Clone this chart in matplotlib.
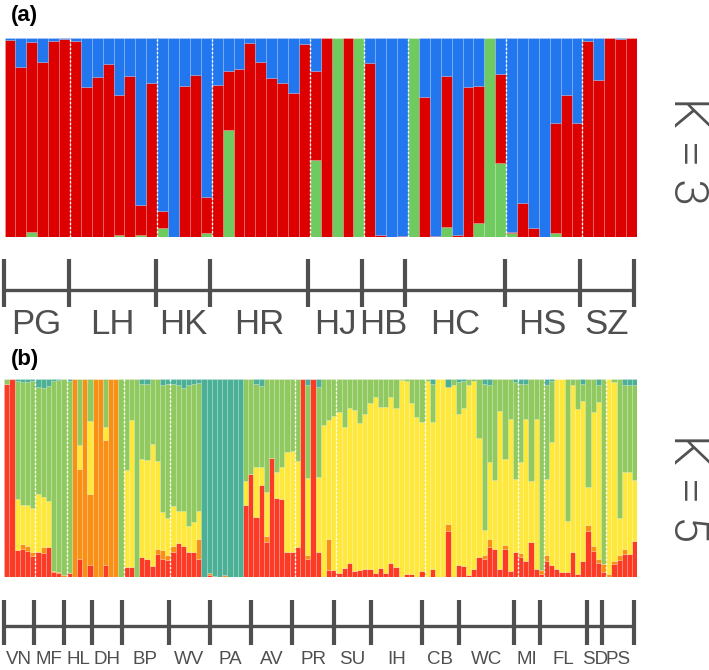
import numpy as np
import matplotlib
matplotlib.use('Agg')
import matplotlib.pyplot as plt
from matplotlib import font_manager

# ---------------- data: panel (a), K = 3 ----------------
a_labels = ['PG', 'LH', 'HK', 'HR', 'HJ', 'HB', 'HC', 'HS', 'SZ']
a_sizes = [6, 8, 5, 9, 5, 4, 9, 7, 5]
a_red = [0.99, 0.854, 0.958, 0.882, 0.988, 0.995,
         0.988, 0.753, 0.807, 0.869, 0.706, 0.812, 0.151, 0.776,
         0.089, 0.0, 0.76, 0.815, 0.182,
         0.765, 0.297, 0.845, 0.975, 0.879, 0.802, 0.773, 0.723, 0.97,
         0.449, 1.0, 0.0, 1.0, 0.0,
         0.874, 0.008, 0.0, 0.005,
         0.0, 0.703, 0.005, 0.761, 0.008, 0.753, 0.692, 0.0, 0.45,
         0.005, 0.168, 0.042, 0.0, 0.555, 0.714, 0.575,
         0.988, 0.79, 1.0, 0.997, 1.0]
a_green = [0, 0, 0.025, 0, 0, 0,
           0, 0, 0, 0, 0.008, 0, 0.008, 0,
           0.042, 0, 0, 0, 0.017,
           0, 0.538, 0, 0, 0, 0, 0, 0, 0,
           0.387, 0, 1.0, 0, 1.0,
           0, 0, 0, 0,
           1.0, 0, 0, 0.05, 0, 0, 0.067, 1.0, 0.37,
           0.02, 0, 0, 0, 0.017, 0, 0,
           0, 0, 0, 0, 0]
a_axis_ticks = [-0.08, 5.91, 13.87, 18.83, 27.83, 32.78, 36.73, 45.9, 52.77, 57.73]

# ---------------- data: panel (b), K = 5 ----------------
b_labels = ['VN', 'MF', 'HL', 'DH', 'BP', 'WV', 'PA', 'AV', 'PR', 'SU', 'IH',
            'CB', 'WC', 'MI', 'FL', 'SD', 'PS']
b_dashed_after = [6, 12, 23, 32, 56, 64, 81, 99, 104, 116]
b_red = [0.975, 1.0, 0.134, 0.139, 0.13, 0.106,
         0.128, 0.123, 0.153, 0.025, 0.02, 0.0,
         0.02, 0.0, 0.09, 0.0, 0.059,
         0.0, 0.0, 0.059, 0.0, 0.0, 0.0,
         0.052, 0.052, 0.0, 0.10, 0.089, 0.055, 0.118, 0.092, 0.084,
         0.126, 0.173, 0.156, 0.126, 0.126, 0.092,
         0.0, 0.01, 0.005, 0.0, 0.0, 0.0, 0.0, 0.0,
         0.361, 0.519, 0.304, 0.464, 0.175, 0.598, 0.40, 0.393, 0.124, 0.124,
         0.153, 1.0, 0.089, 1.0, 0.126, 0.0, 0.037, 0.037,
         0.018, 0.044, 0.069, 0.03, 0.035, 0.042, 0.039, 0.018, 0.045, 0.018,
         0.071, 0.05, 0.0, 0.013, 0.017, 0.0, 0.03,
         0.0, 0.042, 0.0, 0.0, 0.23, 0.0, 0.062, 0.055, 0.01, 0.04, 0.10,
         0.092, 0.151, 0.143, 0.042, 0.143, 0.029, 0.126,
         0.10, 0.079, 0.176, 0.042, 0.017,
         0.079, 0.06, 0.042, 0.025, 0.025, 0.126, 0.017, 0.079, 0.23, 0.131, 0.072, 0.025,
         0.0, 0.065, 0.085, 0.118, 0.118, 0.18]
b_orange = [0.0, 0.0, 0.0, 0.029, 0.027, 0.02,
            0.0, 0.03, 0.0, 0.005, 0.005, 0.01,
            0.0, 1.0, 0.457, 1.0, 0.361,
            1.0, 1.0, 0.634, 1.0, 1.0, 0.0,
            0.0, 0.0, 0.0, 0.0, 0.0, 0.0, 0.025, 0.042, 0.025,
            0.03, 0.0, 0.0, 0.0, 0.0, 0.10,
            0.0, 0.01, 0.0, 0.0, 0.008, 0.0, 0.0, 0.0,
            0.0, 0.0, 0.0, 0.0, 0.034, 0.0, 0.0, 0.0, 0.0, 0.0,
            0.0, 0.0, 0.022, 0.0, 0.0, 0.0, 0.153, 0.0,
            0.0, 0.0, 0.0, 0.0, 0.0, 0.0, 0.0, 0.0, 0.0, 0.0,
            0.0, 0.0, 0.0, 0.0, 0.0, 0.0, 0.0,
            0.0, 0.0, 0.0, 0.0, 0.039, 0.0, 0.0, 0.0, 0.0, 0.0, 0.0,
            0.02, 0.042, 0.0, 0.0, 0.017, 0.0, 0.0,
            0.02, 0.0, 0.0, 0.0, 0.017,
            0.034, 0.0, 0.0, 0.0, 0.0, 0.0, 0.0, 0.0, 0.034, 0.025, 0.02, 0.042,
            0.017, 0.018, 0.025, 0.025, 0.0, 0.0]
b_yellow = [0.0, 0.0, 0.26, 0.193, 0.205, 0.222,
            0.29, 0.25, 0.23, 0.0, 0.0, 0.0,
            0.0, 0.0, 0.121, 0.0, 0.366,
            0.0, 0.0, 0.064, 0.0, 0.0, 0.0,
            0.487, 0.74, 0.0, 0.496, 0.50, 0.615, 0.44, 0.193, 0.19,
            0.20, 0.158, 0.175, 0.13, 0.15, 0.143,
            0.0, 0.0, 0.0, 0.0, 0.0, 0.0, 0.0, 0.0,
            0.124, 0.0, 0.249, 0.092, 0.218, 0.0, 0.13, 0.16, 0.506, 0.511,
            0.432, 0.0, 0.388, 0.0, 0.38, 0.765, 0.60, 0.773,
            0.816, 0.714, 0.781, 0.812, 0.74, 0.78, 0.84, 0.888, 0.814, 0.841,
            0.835, 0.80, 0.993, 0.977, 0.859, 0.805, 0.753,
            0.99, 0.74, 1.0, 1.0, 0.689, 0.97, 0.76, 0.795, 0.956, 0.95, 0.60,
            0.123, 0.387, 0.345, 0.793, 0.434, 0.77, 0.366,
            0.459, 0.72, 0.306, 0.756, 0.0,
            0.38, 0.62, 0.958, 0.975, 0.257, 0.84, 0.832, 0.807, 0.19, 0.676, 0.79, 0.0,
            0.983, 0.90, 0.19, 0.387, 0.412, 0.307]
b_teal = [0.0, 0.0, 0.013, 0.017, 0.018, 0.01,
          0.04, 0.045, 0.035, 0.01, 0.005, 0.0,
          0.01, 0.0, 0.0, 0.0, 0.0,
          0.0, 0.0, 0.0, 0.0, 0.0, 0.0,
          0.0, 0.0, 0.0, 0.025, 0.025, 0.0, 0.0, 0.034, 0.025,
          0.025, 0.034, 0.047, 0.034, 0.025, 0.02,
          1.0, 0.98, 0.995, 1.0, 0.992, 1.0, 1.0, 1.0,
          0.0, 0.0, 0.027, 0.037, 0.0, 0.0, 0.0, 0.0, 0.0, 0.0,
          0.0, 0.0, 0.032, 0.0, 0.04, 0.0, 0.0, 0.0,
          0.0, 0.0, 0.0, 0.0, 0.0, 0.0, 0.0, 0.0, 0.0, 0.0,
          0.0, 0.0, 0.0, 0.0, 0.0, 0.0, 0.0,
          0.0, 0.025, 0.0, 0.0, 0.042, 0.0, 0.018, 0.01, 0.0, 0.0, 0.0,
          0.025, 0.034, 0.0, 0.0, 0.0, 0.0, 0.017,
          0.025, 0.025, 0.0, 0.0, 0.0,
          0.034, 0.01, 0.0, 0.0, 0.0, 0.0, 0.0, 0.025, 0.0, 0.0, 0.034, 0.0,
          0.0, 0.0, 0.0, 0.034, 0.034, 0.034]
b_axis_ticks = [-0.13, 5.68, 11.6, 16.82, 22.64, 31.77, 39.6, 47.61, 55.51, 63.5,
                70.63, 80.46, 87.59, 98.28, 103.26, 112.37, 115.24, 121.33]

# ---------------- styling ----------------
A_COLS = {'green': '#6fcb5f', 'red': '#dd0000', 'blue': '#2277ee'}
B_COLS = {'red': '#fb3b26', 'orange': '#fa8f15', 'yellow': '#fee83b',
          'green': '#90c95f', 'teal': '#4bb096'}
AXIS_COL = '#4f4f4f'

fonts = font_manager.fontManager.ttflist
names = {f.name for f in fonts}
NARROW = 'Liberation Sans Narrow' if 'Liberation Sans Narrow' in names else 'Liberation Sans'
NARROW_STRETCH = 'normal' if NARROW == 'Liberation Sans Narrow' else 'condensed'

K_FAMILY, K_WEIGHT = 'Liberation Sans', 'normal'
for fam in ['Roboto', 'Lato', 'Open Sans', 'Inter']:
    ws = [f.weight for f in fonts if f.name == fam and f.style == 'normal']
    ws = [w if isinstance(w, int) else {'light': 300, 'normal': 400, 'regular': 400}.get(w, 400)
          for w in ws]
    if any(w == 300 for w in ws):
        K_FAMILY, K_WEIGHT = fam, 300
        break

W, H = 709, 670
fig = plt.figure(figsize=(W / 100, H / 100), dpi=100)


def px_axes(x0, y0, x1, y1):
    return fig.add_axes([x0 / W, 1 - y1 / H, (x1 - x0) / W, (y1 - y0) / H])


def stacked(ax, layers, dashed):
    n = len(layers[0][0])
    x = np.arange(n)
    bottom = np.zeros(n)
    for vals, col in layers:
        v = np.asarray(vals, dtype=float)
        ax.bar(x, v, bottom=bottom, width=1.0, align='edge', color=col,
               edgecolor=(1, 1, 1, 0.2), linewidth=0.5)
        bottom = bottom + v
    ax.vlines(dashed, 0, 1, colors='white', linestyles=(0, (1.6, 1.4)), linewidth=1.0)
    ax.set_xlim(0, n)
    ax.set_ylim(0, 1)
    ax.axis('off')
    return n


def group_axis(ax, n, ticks, labels, line_y, tick_top, tick_bot, lab_y, fs, ylim):
    ax.set_xlim(0, n)
    ax.set_ylim(*ylim)
    ax.hlines(line_y, ticks[0], ticks[-1], colors=AXIS_COL, linewidth=2.4, clip_on=False)
    ax.vlines(ticks, tick_top, tick_bot, colors=AXIS_COL, linewidth=3.0, clip_on=False)
    for i, lab in enumerate(labels):
        ax.text((ticks[i] + ticks[i + 1]) / 2, lab_y, lab, ha='center', va='center',
                fontsize=fs, color=AXIS_COL, family=NARROW, stretch=NARROW_STRETCH)
    ax.axis('off')


# ---- panel (a)
a_blue = [max(0.0, 1 - r - g) for r, g in zip(a_red, a_green)]
ax_a = px_axes(4.5, 38.3, 637, 236.7)
na = stacked(ax_a, [(a_green, A_COLS['green']), (a_red, A_COLS['red']),
                    (a_blue, A_COLS['blue'])],
             np.cumsum(a_sizes)[:-1])

ax_ag = px_axes(4.5, 250, 637, 345)
group_axis(ax_ag, na, a_axis_ticks, a_labels, 290, 259, 307, 325, 25, (345, 250))

# ---- panel (b)
b_green = [max(0.0, 1 - r - o - y - t) for r, o, y, t in zip(b_red, b_orange, b_yellow, b_teal)]
ax_b = px_axes(4.3, 378.7, 637.3, 577)
nb = stacked(ax_b, [(b_red, B_COLS['red']), (b_orange, B_COLS['orange']),
                    (b_yellow, B_COLS['yellow']), (b_green, B_COLS['green']),
                    (b_teal, B_COLS['teal'])],
             b_dashed_after)

ax_bg = px_axes(4.3, 590, 637.3, 670)
group_axis(ax_bg, nb, b_axis_ticks, b_labels, 626, 600, 645, 660, 13.5, (670, 590))

# ---- panel letters and K labels
fig.text(11 / W, 1 - 16 / H, '(a)', fontsize=16, fontweight='bold', family='Liberation Sans',
         ha='left', va='center', color='black')
fig.text(11 / W, 1 - 360 / H, '(b)', fontsize=16, fontweight='bold', family='Liberation Sans',
         ha='left', va='center', color='black')
fig.text(687 / W, 1 - 151 / H, 'K = 3', fontsize=35, rotation=-90, family=K_FAMILY,
         fontweight=K_WEIGHT, ha='center', va='center', color='#505050')
fig.text(687 / W, 1 - 488 / H, 'K = 5', fontsize=35, rotation=-90, family=K_FAMILY,
         fontweight=K_WEIGHT, ha='center', va='center', color='#505050')

fig.savefig('out.png', dpi=100)
